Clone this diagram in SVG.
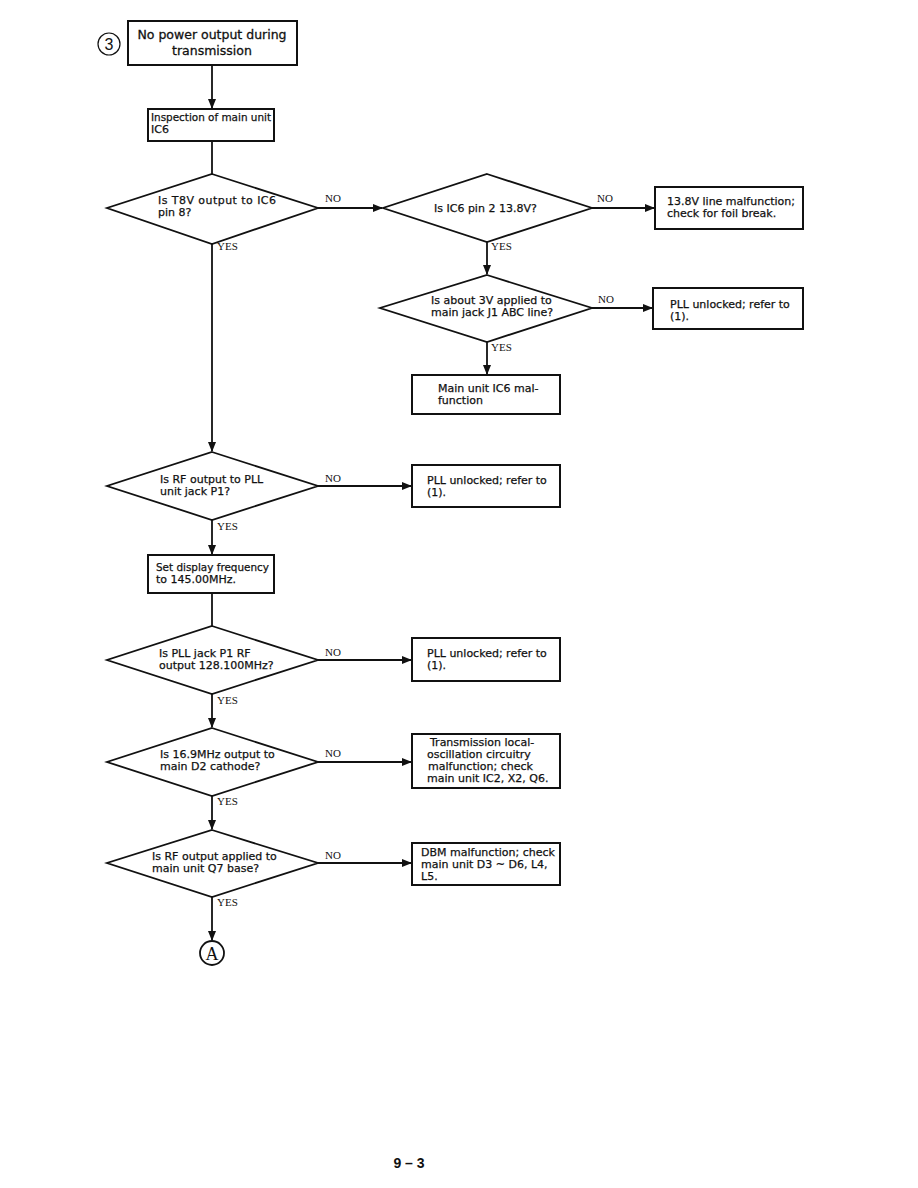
<svg xmlns="http://www.w3.org/2000/svg" width="918" height="1188" viewBox="0 0 918 1188">
<style>
.bx{fill:#fff;stroke:#111;stroke-width:2}
.dm{fill:#fff;stroke:#111;stroke-width:1.8}
.t{font-family:"DejaVu Sans","Liberation Sans",Arial,sans-serif;font-size:11px;fill:#111;stroke:#111;stroke-width:0.25}
.tl{font-family:"DejaVu Sans","Liberation Sans",Arial,sans-serif;font-size:12.5px;fill:#111;stroke:#111;stroke-width:0.3}
.lb{font-family:"Liberation Serif","Times New Roman",serif;font-size:11px;fill:#111}
.ln{fill:none;stroke:#111;stroke-width:1.8}
</style>
<defs>
<marker id="ah" markerWidth="10" markerHeight="8" refX="9" refY="4" orient="auto" markerUnits="userSpaceOnUse">
<path d="M0,0 L10,4 L0,8 Z" fill="#111"/>
</marker>
</defs>
<rect width="918" height="1188" fill="#fff"/>

<g id="connectors">
<line class="ln" x1="212" y1="65" x2="212" y2="108" marker-end="url(#ah)"/>
<line class="ln" x1="212" y1="141" x2="212" y2="174"/>
<line class="ln" x1="318" y1="208" x2="382" y2="208" marker-end="url(#ah)"/>
<line class="ln" x1="592" y1="208" x2="654" y2="208" marker-end="url(#ah)"/>
<line class="ln" x1="487" y1="242" x2="487" y2="274" marker-end="url(#ah)"/>
<line class="ln" x1="592" y1="308" x2="652" y2="308" marker-end="url(#ah)"/>
<line class="ln" x1="487" y1="342" x2="487" y2="374" marker-end="url(#ah)"/>
<line class="ln" x1="212" y1="244" x2="212" y2="451" marker-end="url(#ah)"/>
<line class="ln" x1="318" y1="486" x2="411" y2="486" marker-end="url(#ah)"/>
<line class="ln" x1="212" y1="520" x2="212" y2="554" marker-end="url(#ah)"/>
<line class="ln" x1="212" y1="593" x2="212" y2="626"/>
<line class="ln" x1="318" y1="660" x2="411" y2="660" marker-end="url(#ah)"/>
<line class="ln" x1="212" y1="694" x2="212" y2="727" marker-end="url(#ah)"/>
<line class="ln" x1="318" y1="762" x2="411" y2="762" marker-end="url(#ah)"/>
<line class="ln" x1="212" y1="796" x2="212" y2="829" marker-end="url(#ah)"/>
<line class="ln" x1="318" y1="863" x2="411" y2="863" marker-end="url(#ah)"/>
<line class="ln" x1="212" y1="897" x2="212" y2="940" marker-end="url(#ah)"/>
<text class="lb" x="325" y="202">NO</text>
<text class="lb" x="597" y="202">NO</text>
<text class="lb" x="491" y="250">YES</text>
<text class="lb" x="598" y="303">NO</text>
<text class="lb" x="491" y="351">YES</text>
<text class="lb" x="217" y="250">YES</text>
<text class="lb" x="325" y="482">NO</text>
<text class="lb" x="217" y="530">YES</text>
<text class="lb" x="325" y="656">NO</text>
<text class="lb" x="217" y="704">YES</text>
<text class="lb" x="325" y="757">NO</text>
<text class="lb" x="217" y="805">YES</text>
<text class="lb" x="325" y="859">NO</text>
<text class="lb" x="217" y="906">YES</text>
</g>

<g id="num3">
<circle cx="109" cy="44" r="11" fill="none" stroke="#111" stroke-width="1.2"/>
<text x="109" y="50" text-anchor="middle" style="font-family:'Liberation Sans',Arial,sans-serif;font-size:16px;fill:#111">3</text>
</g>

<g id="start">
<rect class="bx" x="128" y="21" width="169" height="44"/>
<text class="tl" x="212" y="39" text-anchor="middle">No power output during</text>
<text class="tl" x="212" y="55" text-anchor="middle">transmission</text>
</g>

<g id="inspect">
<rect class="bx" x="148" y="109" width="126" height="32"/>
<text class="t" x="151" y="121" textLength="120" lengthAdjust="spacingAndGlyphs">Inspection of main unit</text>
<text class="t" x="151" y="133">IC6</text>
</g>

<g id="d1">
<polygon class="dm" points="212,174 318,208 212,244 107,208"/>
<text class="t" x="158" y="204" textLength="118" lengthAdjust="spacing">Is T8V output to IC6</text>
<text class="t" x="158" y="216">pin 8?</text>
</g>

<g id="d2">
<polygon class="dm" points="487,174 592,208 487,242 383,208"/>
<text class="t" x="434" y="212">Is IC6 pin 2 13.8V?</text>
</g>

<g id="b138">
<rect class="bx" x="655" y="187" width="148" height="42"/>
<text class="t" x="667" y="205">13.8V line malfunction;</text>
<text class="t" x="667" y="217">check for foil break.</text>
</g>

<g id="d3">
<polygon class="dm" points="487,275 592,308 487,342 380,308"/>
<text class="t" x="431" y="304">Is about 3V applied to</text>
<text class="t" x="431" y="316">main jack J1 ABC line?</text>
</g>

<g id="bpll1">
<rect class="bx" x="653" y="288" width="150" height="41"/>
<text class="t" x="670" y="308">PLL unlocked; refer to</text>
<text class="t" x="670" y="320">(1).</text>
</g>

<g id="bic6">
<rect class="bx" x="412" y="375" width="148" height="39"/>
<text class="t" x="438" y="392">Main unit IC6 mal-</text>
<text class="t" x="438" y="404">function</text>
</g>

<g id="d4">
<polygon class="dm" points="212,452 318,486 212,520 107,486"/>
<text class="t" x="160" y="483">Is RF output to PLL</text>
<text class="t" x="160" y="495">unit jack P1?</text>
</g>

<g id="bpll2">
<rect class="bx" x="412" y="465" width="148" height="42"/>
<text class="t" x="427" y="484">PLL unlocked; refer to</text>
<text class="t" x="427" y="496">(1).</text>
</g>

<g id="bset">
<rect class="bx" x="148" y="555" width="126" height="38"/>
<text class="t" x="156" y="571" textLength="113" lengthAdjust="spacingAndGlyphs">Set display frequency</text>
<text class="t" x="156" y="583">to 145.00MHz.</text>
</g>

<g id="d5">
<polygon class="dm" points="212,626 318,660 212,694 107,660"/>
<text class="t" x="159" y="657">Is PLL jack P1 RF</text>
<text class="t" x="159" y="669">output 128.100MHz?</text>
</g>

<g id="bpll3">
<rect class="bx" x="412" y="638" width="148" height="43"/>
<text class="t" x="427" y="657">PLL unlocked; refer to</text>
<text class="t" x="427" y="669">(1).</text>
</g>

<g id="d6">
<polygon class="dm" points="212,728 318,762 212,796 107,762"/>
<text class="t" x="160" y="758">Is 16.9MHz output to</text>
<text class="t" x="160" y="770">main D2 cathode?</text>
</g>

<g id="btx">
<rect class="bx" x="412" y="734" width="148" height="54"/>
<text class="t" x="430" y="746">Transmission local-</text>
<text class="t" x="427" y="758">oscillation circuitry</text>
<text class="t" x="428" y="770">malfunction; check</text>
<text class="t" x="427" y="782">main unit IC2, X2, Q6.</text>
</g>

<g id="d7">
<polygon class="dm" points="212,830 318,863 212,897 107,863"/>
<text class="t" x="152" y="860">Is RF output applied to</text>
<text class="t" x="152" y="872">main unit Q7 base?</text>
</g>

<g id="bdbm">
<rect class="bx" x="412" y="843" width="148" height="42"/>
<text class="t" x="421" y="856">DBM malfunction; check</text>
<text class="t" x="421" y="868">main unit D3 ~ D6, L4,</text>
<text class="t" x="421" y="880">L5.</text>
</g>

<g id="connA">
<circle cx="212" cy="953" r="12" fill="#fff" stroke="#111" stroke-width="1.8"/>
<text x="212" y="960" text-anchor="middle" style="font-family:'Liberation Serif','Times New Roman',serif;font-size:18px;fill:#111">A</text>
</g>

<g id="page">
<text x="409" y="1168" text-anchor="middle" style="font-family:'Liberation Sans',Arial,sans-serif;font-size:14px;font-weight:bold;fill:#111">9 – 3</text>
</g>
</svg>
